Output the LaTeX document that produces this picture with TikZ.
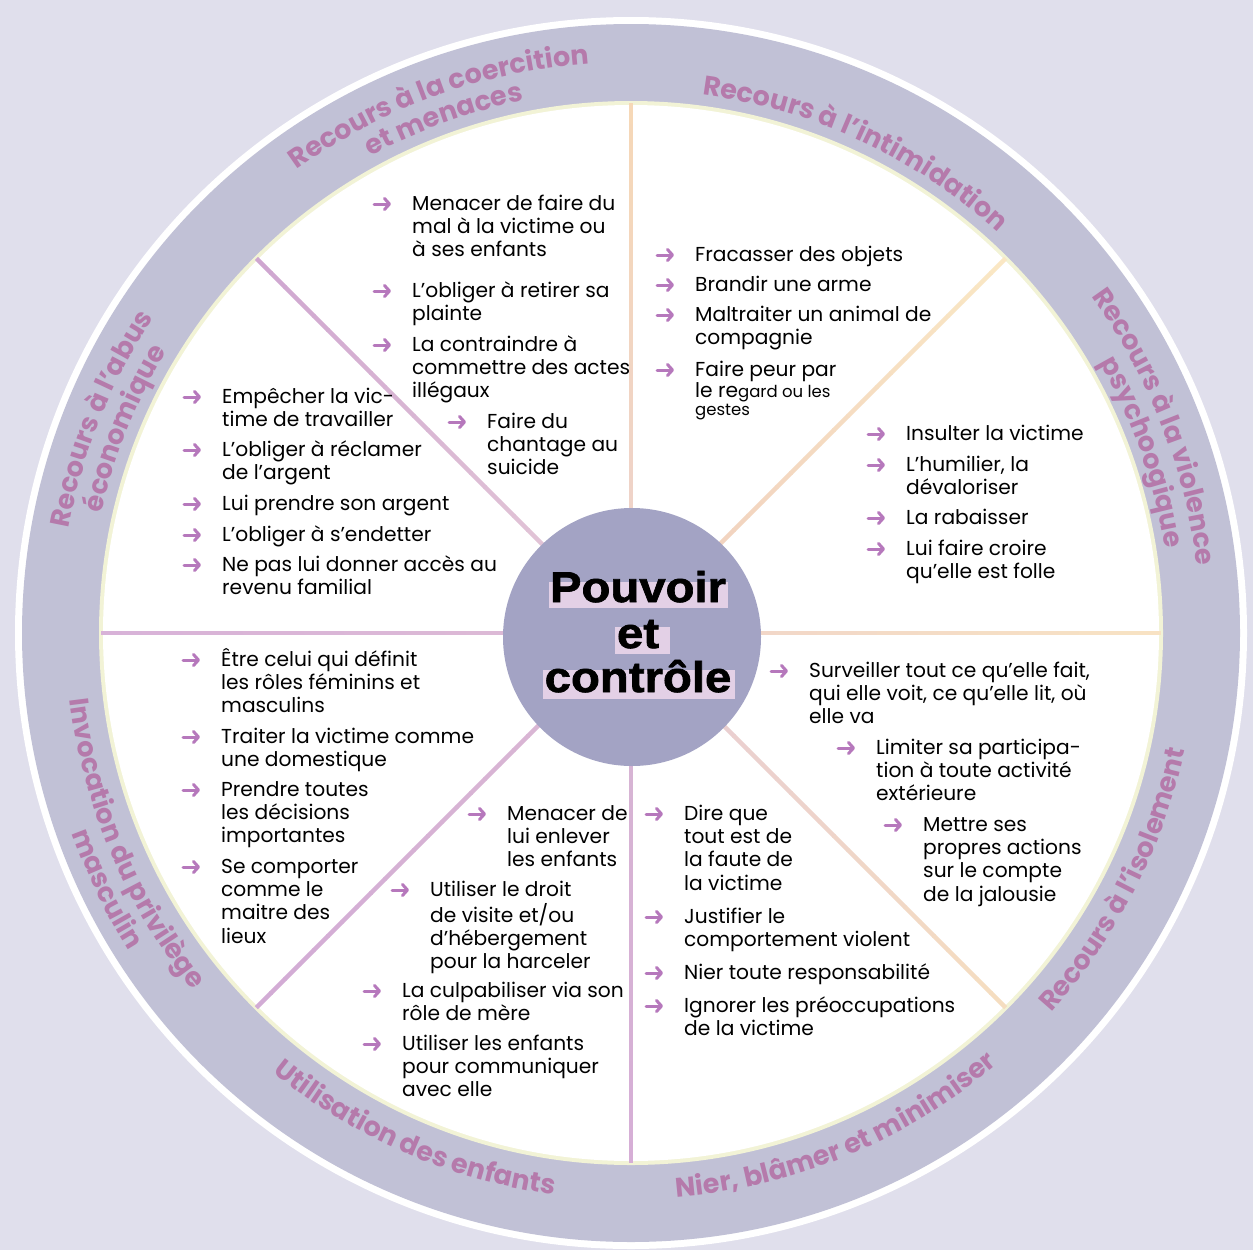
\documentclass[tikz,border=0pt]{standalone}
\usepackage{fontspec}
\setmainfont{Poppins}
\newfontfamily\centerfont{Liberation Sans}[FakeStretch=1.1,FakeBold=1.6]
\usetikzlibrary{arrows.meta,decorations.text}
\definecolor{bgcol}{HTML}{E0DFEC}
\definecolor{ringcol}{HTML}{C1C1D6}
\definecolor{rimcol}{HTML}{F2F3D6}
\definecolor{hubcol}{HTML}{A3A3C4}
\definecolor{hlcol}{HTML}{E3D0E6}
\definecolor{mauve}{HTML}{B57AAB}
\definecolor{arrowcol}{HTML}{B678BC}
% spoke colours (inner / outer)
\definecolor{sAi}{HTML}{EFD3C8}\definecolor{sAo}{HTML}{F6D8B6}
\definecolor{sBi}{HTML}{F2D4C0}\definecolor{sBo}{HTML}{FAE8C4}
\definecolor{sCi}{HTML}{F2D7C8}\definecolor{sCo}{HTML}{F8E3C3}
\definecolor{sDi}{HTML}{EACFD0}\definecolor{sDo}{HTML}{F6DEBF}
\definecolor{sEi}{HTML}{D7B4D4}\definecolor{sEo}{HTML}{D6AED6}
\definecolor{sFi}{HTML}{D9B6D4}\definecolor{sFo}{HTML}{D2ABD5}
\definecolor{sGi}{HTML}{DCB9D6}\definecolor{sGo}{HTML}{D8B2D8}
\definecolor{sHi}{HTML}{E1C3D6}\definecolor{sHo}{HTML}{CEA5D0}
\pgfdeclarelayer{bglayer}
\pgfdeclarelayer{hllayer}
\pgfsetlayers{bglayer,hllayer,main}
\newcommand\itemfont{\fontsize{20.2}{23.4}\selectfont}
\newcommand\smallitemfont{\fontsize{16.5}{19}\selectfont}
\newcommand\ringfont{\bfseries\fontsize{27}{30}\selectfont}
\newcommand\wheelitem[4]{%
  \node[itemtext] (#1) at (#2,#3) {\begin{tabular}[t]{@{}l@{}}#4\end{tabular}};
  \draw[itemarrow] ([xshift=-38pt,yshift=6pt]#1.base west) -- ++(17pt,0pt);}
\begin{document}
\begin{tikzpicture}[x=1pt,y=-1pt,
  itemtext/.style={anchor=base west, inner sep=0pt, font=\itemfont, text=black},
  itemarrow/.style={draw=arrowcol, line width=3pt, line cap=round,
    -{Straight Barb[length=5pt,width=11pt,round]}},
  spoke/.style={line width=4.5pt},
  centertext/.style={anchor=base, inner sep=0pt, font=\centerfont\bfseries\fontsize{43}{45}\selectfont},
  ringlabel/.style={decorate, decoration={text along path, text align=center,
    text color=mauve, text={|\ringfont|#1}}}]
\useasboundingbox (0,0) rectangle (1253,1250);
\begin{pgfonlayer}{bglayer}
  \fill[bgcol] (0,0) rectangle (1253,1250);
  \fill[white] (631,633) circle[radius=616];
  \fill[ringcol] (631,633) circle[radius=609];
  \fill[rimcol] (631,633) circle[radius=532];
  \fill[white] (631,633) circle[radius=528];
  \begin{scope}[shift={(631,633)},y=1pt]
    \foreach \a/\ci/\co in {90/sAi/sAo,45/sBi/sBo,0/sCi/sCo,-45/sDi/sDo,-90/sEi/sEo,-135/sFi/sFo,180/sGi/sGo,135/sHi/sHo}{
      \foreach \i in {0,...,19}{
        \pgfmathtruncatemacro\p{100-\i*5}
        \draw[spoke, draw=\ci!\p!\co] (\a:{125+\i*20.2}) -- (\a:{125+(\i+1)*20.2+0.8});
      }
    }
  \end{scope}
  \node[circle, fill=hubcol, minimum size=258pt, inner sep=0pt] (hub) at (632,637) {};
\end{pgfonlayer}

% centre
\node[centertext] (P) at (638,602) {Pouvoir};
\node[centertext] (E) at (638,648) {et};
\node[centertext] (C) at (638,692) {contrôle};
\begin{pgfonlayer}{hllayer}
  \fill[hlcol] ([xshift=-1pt,yshift=-6pt]P.base west) rectangle ([xshift=2pt,yshift=20pt]P.base east);
  \fill[hlcol] ([xshift=-2pt,yshift=-6pt]E.base west) rectangle ([xshift=11pt,yshift=21pt]E.base east);
  \fill[hlcol] ([xshift=-2pt,yshift=-7pt]C.base west) rectangle ([xshift=3pt,yshift=22pt]C.base east);
\end{pgfonlayer}

% ring labels
\begin{scope}[shift={(631,633)},y=1pt]
  \path[ringlabel={Recours à la coercition}] (150:571) arc[start angle=150,end angle=70,radius=571];
  \path[ringlabel={et menaces}] (150:543) arc[start angle=150,end angle=70,radius=543];
  \path[ringlabel={Recours à l’intimidation}] (105:543) arc[start angle=105,end angle=25,radius=543];
  \path[ringlabel={Recours à la violence}] (61.5:570) arc[start angle=61.5,end angle=-18.5,radius=570];
  \path[ringlabel={psychoogique}] (59.5:541) arc[start angle=59.5,end angle=-20.5,radius=541];
  \path[ringlabel={Recours à l’isolement}] (-67:566) arc[start angle=-67,end angle=13,radius=566];
  \path[ringlabel={Nier, blâmer et minimiser}] (-107.5:566) arc[start angle=-107.5,end angle=-27.5,radius=566];
  \path[ringlabel={Utilisation des enfants}] (-153.5:567) arc[start angle=-153.5,end angle=-73.5,radius=567];
  \path[ringlabel={Invocation du privilège}] (163:565) arc[start angle=163,end angle=243,radius=565];
  \path[ringlabel={masculin}] (166:594) arc[start angle=166,end angle=246,radius=594];
  \path[ringlabel={Recours à l'abus}] (198:572) arc[start angle=198,end angle=118,radius=572];
  \path[ringlabel={économique}] (198:543) arc[start angle=198,end angle=118,radius=543];
\end{scope}

% coercion
\wheelitem{c1}{412}{210}{Menacer de faire du\\mal à la victime ou\\à ses enfants}
\wheelitem{c2}{412}{297}{L’obliger à retirer sa\\plainte}
\wheelitem{c3}{412}{351}{La contraindre à\\commettre des actes\\illégaux}
\wheelitem{c4}{487}{428}{Faire du\\chantage au\\suicide}
% intimidation
\wheelitem{i1}{695}{261}{Fracasser des objets}
\wheelitem{i2}{695}{291}{Brandir une arme}
\wheelitem{i3}{695}{321}{Maltraiter un animal de\\compagnie}
\wheelitem{i4}{695}{376}{Faire peur par}
\node[itemtext] (i4b) at (695,397) {le re{\smallitemfont gard ou les}};
\node[itemtext, font=\smallitemfont] (i4c) at (695,415) {gestes};
% psychological
\wheelitem{p1}{906}{440}{Insulter la victime}
\wheelitem{p2}{906}{471}{L’humilier, la\\dévaloriser}
\wheelitem{p3}{906}{524}{La rabaisser}
\wheelitem{p4}{906}{555}{Lui faire croire\\qu’elle est folle}
% economic
\wheelitem{e1}{222}{403}{Empêcher la vic-\\time de travailler}
\wheelitem{e2}{222}{456}{L’obliger à réclamer\\de l’argent}
\wheelitem{e3}{222}{510}{Lui prendre son argent}
\wheelitem{e4}{222}{541}{L’obliger à s’endetter}
\wheelitem{e5}{222}{571}{Ne pas lui donner accès au\\revenu familial}
% isolation
\wheelitem{s1}{809}{677}{Surveiller tout ce qu’elle fait,\\qui elle voit, ce qu’elle lit, où\\elle va}
\wheelitem{s2}{876}{754}{Limiter sa participa-\\tion à toute activité\\extérieure}
\wheelitem{s3}{923}{831}{Mettre ses\\propres actions\\sur le compte\\de la jalousie}
% deny
\wheelitem{d1}{684}{820}{Dire que\\tout est de\\la faute de\\la victime}
\wheelitem{d2}{684}{923}{Justifier le\\comportement violent}
\wheelitem{d3}{684}{979}{Nier toute responsabilité}
\wheelitem{d4}{684}{1012}{Ignorer les préoccupations\\de la victime}
% children
\wheelitem{k1}{507}{820}{Menacer de\\lui enlever\\les enfants}
\wheelitem{k2}{430}{896}{Utiliser le droit\\de visite et/ou\\d’hébergement\\pour la harceler}
\wheelitem{k3}{402}{997}{La culpabiliser via son\\rôle de mère}
\wheelitem{k4}{402}{1050}{Utiliser les enfants\\pour communiquer\\avec elle}
% privilege
\wheelitem{v1}{221}{666}{Être celui qui définit\\les rôles féminins et\\masculins}
\wheelitem{v2}{221}{743}{Traiter la victime comme\\une domestique}
\wheelitem{v3}{221}{796}{Prendre toutes\\les décisions\\importantes}
\wheelitem{v4}{221}{873}{Se comporter\\comme le\\maitre des\\lieux}
\end{tikzpicture}
\end{document}
